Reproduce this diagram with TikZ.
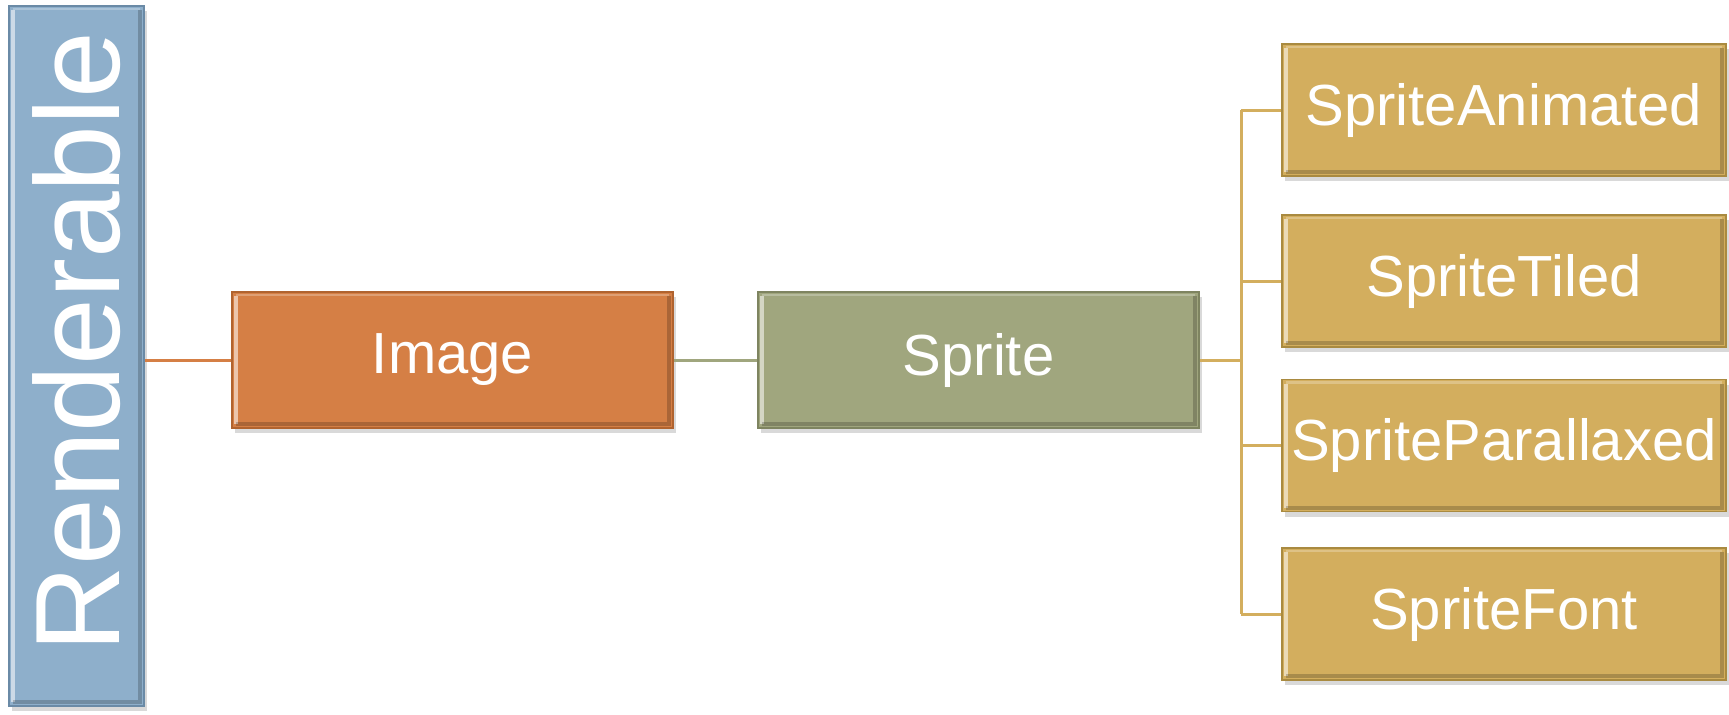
\documentclass[tikz,border=0pt]{standalone}
\usepackage{fontspec}
\setmainfont{Liberation Sans}
\usetikzlibrary{shadows}
\definecolor{renblue}{HTML}{8EAFCB}
\definecolor{renedge}{HTML}{6A8AA6}
\definecolor{imgorange}{HTML}{D57F45}
\definecolor{imgedge}{HTML}{B0632F}
\definecolor{sprgreen}{HTML}{A0A67E}
\definecolor{spredge}{HTML}{7E8460}
\definecolor{kidgold}{HTML}{D3AE5E}
\definecolor{kidedge}{HTML}{A98A40}
\begin{document}
\begin{tikzpicture}[x=0.5pt,y=-0.5pt,
  bevelbox/.style={draw=#1, line width=0.8pt, inner sep=0pt, text=white,
    drop shadow={shadow xshift=1.5pt, shadow yshift=-2.5pt, opacity=0.3},
    path picture={
      \draw[white,opacity=0.55,line width=2pt]
        ([xshift=2pt,yshift=-2pt]path picture bounding box.north west) --
        ([xshift=2pt,yshift=2pt]path picture bounding box.south west);
      \draw[white,opacity=0.25,line width=1.2pt]
        ([xshift=2pt,yshift=-1.5pt]path picture bounding box.north west) --
        ([xshift=-2pt,yshift=-1.5pt]path picture bounding box.north east);
      \draw[black,opacity=0.2,line width=2pt]
        ([xshift=2pt,yshift=2pt]path picture bounding box.south west) --
        ([xshift=-2pt,yshift=2pt]path picture bounding box.south east) --
        ([xshift=-2pt,yshift=-2pt]path picture bounding box.north east);
    }},
  ren/.style={bevelbox=renedge, fill=renblue, minimum width=67.5pt, minimum height=350pt,
    font=\fontsize{60pt}{60pt}\selectfont},
  img/.style={bevelbox=imgedge, fill=imgorange, minimum width=220.5pt, minimum height=68pt,
    font=\fontsize{29pt}{29pt}\selectfont},
  spr/.style={bevelbox=spredge, fill=sprgreen, minimum width=220.5pt, minimum height=68pt,
    font=\fontsize{29pt}{29pt}\selectfont},
  kid/.style={bevelbox=kidedge, fill=kidgold, minimum width=222pt, minimum height=66pt,
    font=\fontsize{29pt}{29pt}\selectfont},
  link/.style={line width=1.5pt, draw=#1}
]
\useasboundingbox (0,0) rectangle (1729,714);

\node[ren] (ren) at (76.5,356) {\rotatebox{90}{\hspace{14pt}Renderable}};
\node[img] (img) at (452.5,360) {Image};
\node[spr] (spr) at (978.5,360) {Sprite};
\node[kid] (k1) at (1504,110) {SpriteAnimated};
\node[kid] (k2) at (1504,281) {SpriteTiled};
\node[kid] (k3) at (1504,445.5) {SpriteParallaxed};
\node[kid] (k4) at (1504,614) {SpriteFont};
\coordinate (j) at (1241,360);

\draw[link=imgorange] (ren.east |- img.west) -- (img.west);
\draw[link=sprgreen] (img.east) -- (spr.west);
\draw[link=kidgold] (spr.east) -- (j);
\draw[link=kidgold] (j |- k1.west) -- (j |- k4.west);
\draw[link=kidgold] (j |- k1.west) -- (k1.west);
\draw[link=kidgold] (j |- k2.west) -- (k2.west);
\draw[link=kidgold] (j |- k3.west) -- (k3.west);
\draw[link=kidgold] (j |- k4.west) -- (k4.west);
\end{tikzpicture}
\end{document}
